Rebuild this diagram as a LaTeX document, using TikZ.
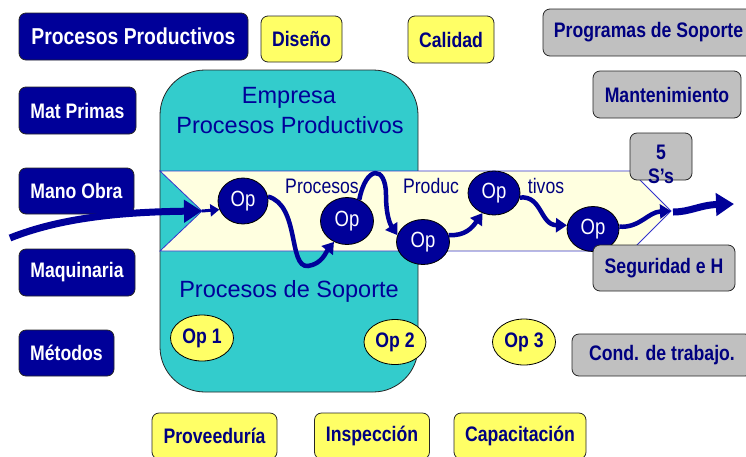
\documentclass[tikz,border=0pt]{standalone}
\usepackage{fontspec}
\setmainfont{Liberation Sans}
\newfontfamily\nf[FakeStretch=0.84]{Liberation Sans}
\usetikzlibrary{arrows.meta,shapes.geometric}
\definecolor{navy}{HTML}{000099}
\definecolor{ink}{HTML}{000080}
\definecolor{teal2}{HTML}{33CCCC}
\definecolor{bandc}{HTML}{FFFFE0}
\definecolor{bandline}{HTML}{3333CC}
\definecolor{yel}{HTML}{FFFF66}
\definecolor{gry}{HTML}{C0C0C0}
\begin{document}
\begin{tikzpicture}[x=1pt,y=-1pt,
 box/.style={rounded corners=7pt, draw=black!85, line width=0.8pt, inner sep=0pt, align=center, font=\nf\bfseries\fontsize{21}{24}\selectfont},
 bluebox/.style={box, fill=navy, text=white},
 yelbox/.style={box, fill=yel, text=ink},
 grybox/.style={box, fill=gry, text=ink},
 opnode/.style={ellipse, draw=black, line width=0.8pt, fill=navy, text=white, inner sep=0pt, font=\nf\fontsize{22}{24}\selectfont},
 yop/.style={ellipse, draw=black, line width=0.8pt, fill=yel, text=ink, inner sep=0pt, minimum width=63pt, minimum height=46pt, font=\nf\bfseries\fontsize{21}{24}\selectfont},
 bigtext/.style={text=navy, inner sep=0pt, font=\fontsize{23.5}{28}\selectfont},
 bandtext/.style={text=ink, inner sep=0pt, font=\nf\fontsize{21}{24}\selectfont},
 flow/.style={draw=navy, line width=4.5pt, -{Triangle[width=14pt,length=11pt]}},
 bigflow/.style={draw=navy, line width=7pt, -{Triangle[width=22pt,length=18pt]}},
]
\useasboundingbox (0,0) rectangle (746,456);
\fill[white] (0,0) rectangle (746,456);
\clip (0,0) rectangle (746,456);

% left column
\node[bluebox, minimum width=229pt, minimum height=47pt, font=\nf\bfseries\fontsize{23}{26}\selectfont] (pp) at (133.5,36.5) {Procesos Productivos};
\node[bluebox, minimum width=117pt, minimum height=47pt] (mp) at (77.5,110.5) {Mat Primas};
\node[bluebox, minimum width=115pt, minimum height=46pt] (mo) at (76.5,191) {Mano Obra};
\node[bluebox, minimum width=116pt, minimum height=47pt] (mq) at (77,272.5) {Maquinaria};
\node[bluebox, minimum width=95pt, minimum height=46pt] (me) at (66.5,353) {Métodos};

% top yellow
\node[yelbox, minimum width=81pt, minimum height=46pt] (dis) at (301.5,39) {Diseño};
\node[yelbox, minimum width=86pt, minimum height=47pt] (cal) at (451,39.5) {Calidad};

% bottom yellow
\node[yelbox, minimum width=125pt, minimum height=46pt] (prov) at (214.5,436) {Proveeduría};
\node[yelbox, minimum width=115pt, minimum height=46pt] (insp) at (372,436) {Inspección};
\node[yelbox, minimum width=132pt, minimum height=46pt] (cap) at (520,436) {Capacitación};

% gray right
\node[grybox, minimum width=217pt, minimum height=47pt] (prog) at (651.5,32.5) {};
\node[text=ink, inner sep=0pt, font=\nf\bfseries\fontsize{21}{24}\selectfont] (progt) at (648.5,32.5) {Programas de Soporte};
\node[grybox, minimum width=148pt, minimum height=47pt] (mant) at (667,94.5) {Mantenimiento};
\node[grybox, minimum width=180pt, minimum height=42pt] (cond) at (662,355) {Cond. de trabajo.};

% company block
\node[draw=black!85, line width=0.8pt, fill=teal2, rounded corners=45pt, minimum width=258pt, minimum height=322pt, inner sep=0pt] (emp) at (289,231) {};
\node[bigtext] (t1) at (289,98) {Empresa};
\node[bigtext] (t2) at (290,125) {Procesos Productivos};
\node[bigtext] (t3) at (289,291) {Procesos de Soporte};

% band
\draw[fill=bandc, draw=bandline, line width=0.8pt] (160,171) -- (631,171) -- (671,211) -- (631,251) -- (160,251) -- (202,211) -- cycle;
\node[bandtext] (bp1) at (322,186) {Procesos};
\node[bandtext] (bp2) at (431,186) {Produc};
\node[bandtext] (bp3) at (546,186) {tivos};

% operation nodes
\node[opnode, minimum width=50pt, minimum height=46pt] (o1) at (243,201) {Op};
\node[opnode, minimum width=53pt, minimum height=47pt] (o2) at (347,221) {Op};
\node[opnode, minimum width=53pt, minimum height=45pt] (o3) at (423,242) {Op};
\node[opnode, minimum width=52pt, minimum height=44pt] (o4) at (494,193) {Op};
\node[opnode, minimum width=52pt, minimum height=45pt] (o5) at (593,229) {Op};

\coordinate (in) at (10,238);
\coordinate (notch) at (202,211);
\coordinate (tip) at (671,211);
\coordinate (outp) at (734,204);

% flows
\draw[bigflow] (in) .. controls (60,218) and (120,212) .. (notch);
\draw[draw=navy, line width=3pt, -{Triangle[width=12pt,length=9pt]}] (notch) -- (o1.200);
\draw[flow] (o1.10) .. controls (300,205) and (288,268) .. (308,266) .. controls (322,264) and (326,252) .. (o2.238);
\draw[flow] (o2.60) .. controls (366,165) and (386,165) .. (386,195) .. controls (386,215) and (390,224) .. (o3.165);
\draw[flow] (o3.15) .. controls (465,236) and (472,228) .. (o4.240);
\draw[flow] (o4.-10) .. controls (542,195) and (540,225) .. (o5.172);
\draw[flow] (o5.5) .. controls (640,228) and (648,212) .. (tip);
\draw[bigflow] (tip) ++(2,1) .. controls (690,212) and (700,205) .. (outp);

% yellow ops
\node[yop] (y1) at (202,338) {Op 1};
\node[yop, minimum width=62pt, minimum height=45pt] (y2) at (395,342) {Op 2};
\node[yop] (y3) at (524,342) {Op 3};

% gray boxes over the band
\node[grybox, minimum width=142pt, minimum height=46pt] (seg) at (664,268) {Seguridad e H};
\node[grybox, minimum width=62pt, minimum height=47pt] (s5) at (661,156.5) {};
\node[text=ink, inner sep=0pt, align=center, font=\nf\bfseries\fontsize{21}{24}\selectfont] (s5t) at (661,164) {5\\S’s};
\end{tikzpicture}
\end{document}
